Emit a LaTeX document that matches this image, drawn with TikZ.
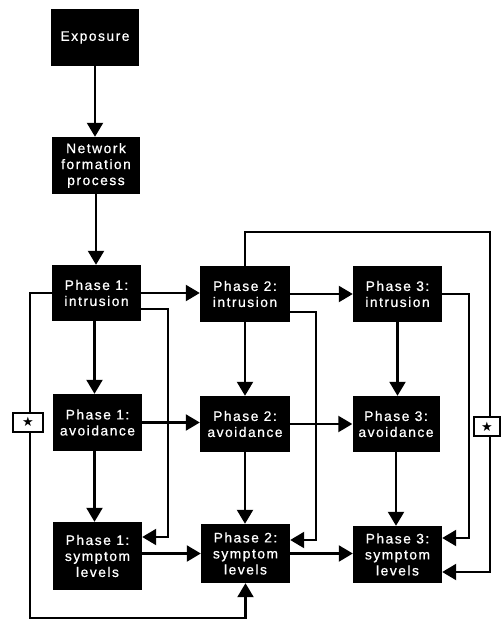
\documentclass[tikz,border=0pt]{standalone}
\usepackage{fontspec}
\setmainfont{Liberation Sans}[LetterSpace=11,FakeBold=0.8]
\newfontfamily\symfont{DejaVu Sans}
\usetikzlibrary{arrows.meta,calc}
\begin{document}
\begin{tikzpicture}[x=1pt,y=-1pt,
  box/.style={fill=black,text=white,inner sep=0pt,align=center,minimum width=89pt,minimum height=56pt,font=\fontsize{13.8}{16}\selectfont},
  arr/.style={line width=2.2pt,-{Triangle[width=16pt,length=14pt]}},
  starbox/.style={draw,line width=2pt,fill=white,minimum width=30pt,minimum height=19pt,inner sep=0pt,font=\symfont\fontsize{13}{13}\selectfont}]
\useasboundingbox (0,0) rectangle (501,620);
% nodes
\node[box,minimum width=88pt,minimum height=57pt] (exp) at (95,37.5) {Exposure};
\node[box,minimum width=88pt,minimum height=57pt] (net) at (96,165.5) {Network\\formation\\process};
\node[box] (p1i) at (96.5,293) {Phase 1:\\intrusion};
\node[box,minimum width=90pt] (p2i) at (245,294) {Phase 2:\\intrusion};
\node[box] (p3i) at (397.5,294) {Phase 3:\\intrusion};
\node[box,minimum height=57pt] (p1a) at (97.5,422.5) {Phase 1:\\avoidance};
\node[box,minimum width=90pt] (p2a) at (245,424) {Phase 2:\\avoidance};
\node[box,minimum width=87pt] (p3a) at (396,424) {Phase 3:\\avoidance};
\node[box,minimum height=68pt] (p1s) at (97.5,556) {Phase 1:\\symptom\\levels};
\node[box,minimum height=59pt] (p2s) at (245.5,553.5) {Phase 2:\\symptom\\levels};
\node[box,minimum height=57pt] (p3s) at (397.5,554.5) {Phase 3:\\symptom\\levels};
% helper coordinates
\coordinate (lc) at (30,618);
\coordinate (r1) at (168,537);
\coordinate (r2) at (316,540);
\coordinate (r3) at (469,538);
\coordinate (tc) at (490,232);
\coordinate (rb) at (490,572);
% vertical chain
\draw[arr] (exp.south) -- (exp.south |- net.north);
\draw[arr] (net.south) -- (net.south |- p1i.north);
\draw[arr] ([xshift=-2pt]p1i.south) -- ([xshift=-2pt]p1i.south |- p1a.north);
\draw[arr] ([xshift=-3pt]p1a.south) -- ([xshift=-3pt]p1a.south |- p1s.north);
\draw[arr] (p2i.south) -- (p2i.south |- p2a.north);
\draw[arr] (p2a.south) -- (p2a.south |- p2s.north);
\draw[arr] (p3i.south) -- (p3i.south |- p3a.north);
\draw[arr] (p3a.south) -- (p3a.south |- p3s.north);
% horizontal
\draw[arr] (p1i.east) -- (p1i.east -| p2i.west);
\draw[arr] (p2i.east) -- (p2i.east -| p3i.west);
\draw[arr] (p1a.east) -- (p1a.east -| p2a.west);
\draw[arr] (p2a.east) -- (p2a.east -| p3a.west);
\draw[arr] (p2s.west -| p1s.east) -- (p2s.west);
\draw[arr] (p2s.east) -- (p2s.east -| p3s.west);
% loops
\draw[arr] (p1i.west) -| (lc) -| (p2s.south);
\draw[arr] ([yshift=-16pt]p1i.east) -| (r1) -- (r1 -| p1s.east);
\draw[arr] ([yshift=-18pt]p2i.east) -| (r2) -- (r2 -| p2s.east);
\draw[arr] (p3i.east) -| (r3) -- (r3 -| p3s.east);
\draw[arr] (p2i.north) |- (tc) -- (rb) -- (rb -| p3s.east);
% star boxes
\node[starbox] (s1) at (28,422) {★};
\node[starbox,minimum width=26pt] (s2) at (487,426.5) {★};
\end{tikzpicture}
\end{document}
